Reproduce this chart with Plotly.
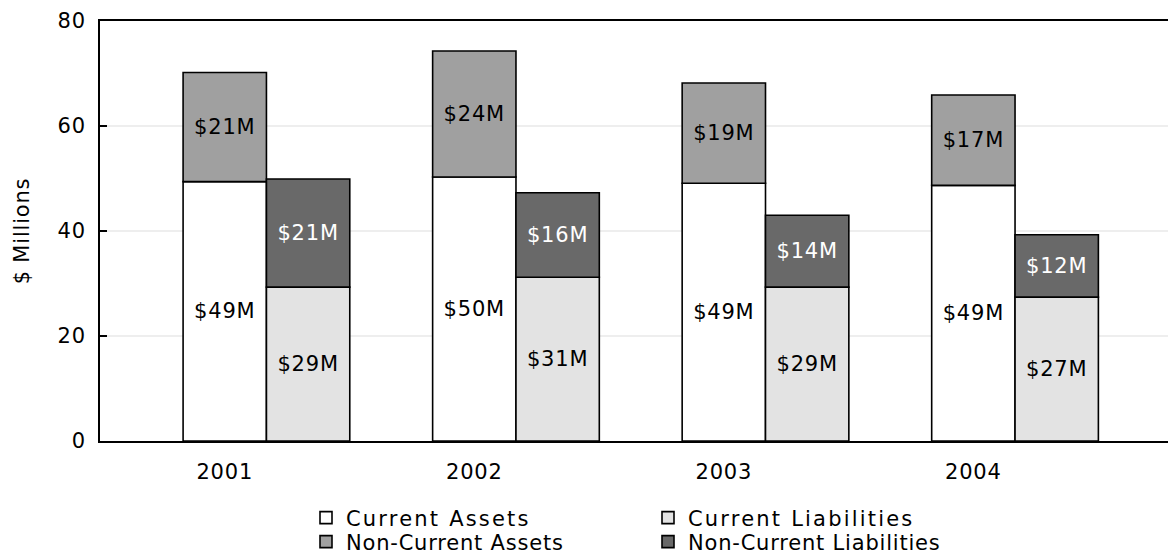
import plotly.graph_objects as go

# Balance sheet summary, $ millions
years = ["2001", "2002", "2003", "2004"]
current_assets = [49.4, 50.3, 49.1, 48.7]
noncurrent_assets = [20.8, 24.0, 19.1, 17.2]
current_liabilities = [29.3, 31.2, 29.3, 27.4]
noncurrent_liabilities = [20.6, 16.1, 13.7, 11.9]
y_ticks = [0, 20, 40, 60, 80]

FONT = "DejaVu Sans"
BAR_W = 0.334
W, H = 1168, 556


def money(vals):
    return [f"${v:.0f}M" for v in vals]


def stacked(name, vals, base, offset, fill, text_color, legend):
    return go.Bar(
        name=name,
        x=years,
        y=vals,
        base=base,
        offset=offset,
        width=BAR_W,
        marker=dict(color=fill, line=dict(color="black", width=1.6)),
        text=money(vals),
        textposition="inside",
        insidetextanchor="middle",
        textangle=0,
        textfont=dict(family=FONT, size=21, color=text_color),
        legend=legend,
        hoverinfo="skip",
    )


zeros = [0] * len(years)
fig = go.Figure([
    stacked("Current Assets", current_assets, zeros, -BAR_W / 2, "#ffffff", "black", "legend"),
    stacked("Current Liabilities", current_liabilities, zeros, BAR_W / 2, "#e3e3e3", "black", "legend"),
    stacked("Non-Current Assets", noncurrent_assets, current_assets, -BAR_W / 2, "#a0a0a0", "black", "legend2"),
    stacked("Non-Current Liabilities", noncurrent_liabilities, current_liabilities, BAR_W / 2, "#696969", "white", "legend2"),
])

legend_common = dict(
    orientation="h",
    xref="container",
    yref="container",
    xanchor="left",
    yanchor="middle",
    entrywidth=297,
    entrywidthmode="pixels",
    font=dict(family=FONT, size=21, color="black"),
    bgcolor="rgba(0,0,0,0)",
    borderwidth=0,
    tracegroupgap=0,
)

fig.update_layout(
    width=W,
    height=H,
    margin=dict(l=100, r=0, t=21, b=115),
    paper_bgcolor="white",
    plot_bgcolor="white",
    barmode="overlay",
    font=dict(family=FONT, size=21, color="black"),
    legend=dict(legend_common, x=306 / W, y=1 - 518 / H),
    legend2=dict(legend_common, x=306 / W, y=1 - 542 / H),
    xaxis=dict(
        type="category",
        range=[-0.5, 3.78],
        showline=True,
        linecolor="black",
        linewidth=2,
        mirror=True,
        ticks="",
        showgrid=False,
        ticklabelstandoff=11,
        tickfont=dict(family=FONT, size=21),
    ),
    yaxis=dict(
        range=[0, 80],
        tickvals=y_ticks,
        showline=True,
        linecolor="black",
        linewidth=2,
        ticks="inside",
        ticklen=7,
        tickwidth=2,
        tickcolor="black",
        showgrid=True,
        gridcolor="#eeeeee",
        gridwidth=1.5,
        zeroline=False,
        ticklabelstandoff=8,
        tickfont=dict(family=FONT, size=21),
        title=dict(text="$ Millions", font=dict(family=FONT, size=21), standoff=24),
    ),
)

# Slightly tracked lettering, wider for the legend entries
text_style = (
    "var s = document.createElement('style');"
    "s.textContent = '.main-svg text { letter-spacing: 0.8px; }"
    " .main-svg text.legendtext { letter-spacing: 2.2px; }';"
    "document.head.appendChild(s);"
)

fig.write_html("out.html", post_script=text_style)
